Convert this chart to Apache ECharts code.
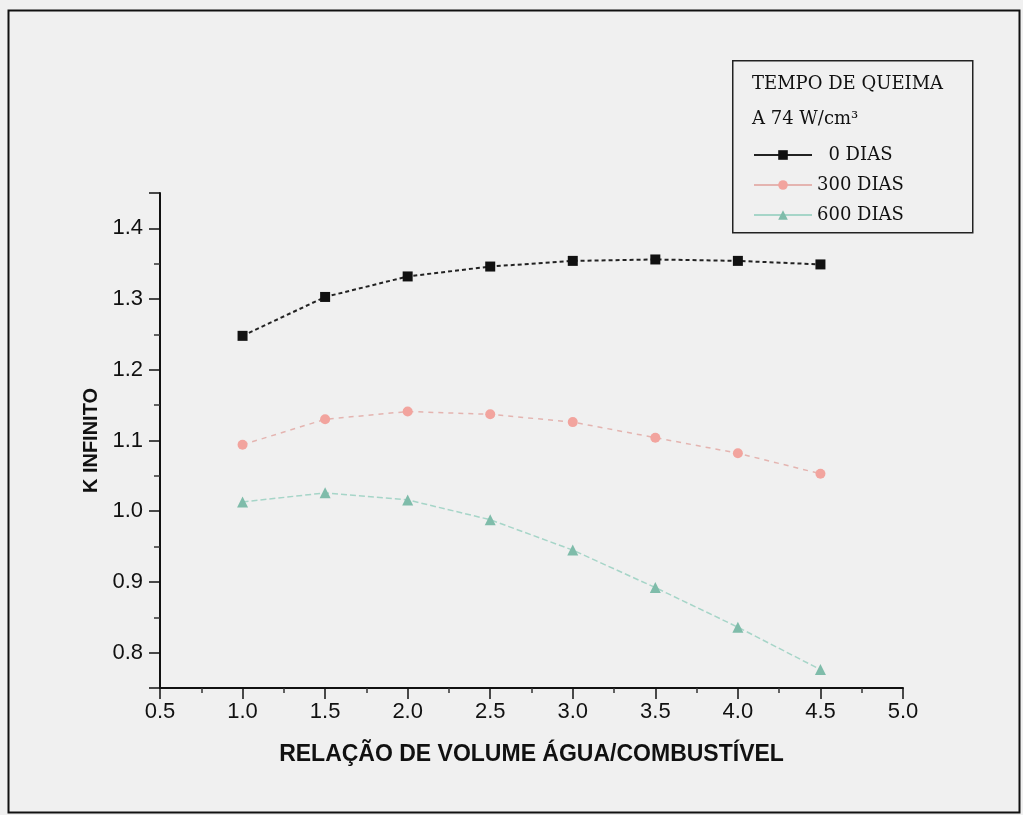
<!DOCTYPE html>
<html>
<head>
<meta charset="utf-8">
<title>K infinito vs relação de volume</title>
<script src="https://cdn.jsdelivr.net/npm/echarts@6/dist/echarts.min.js"></script>
<style>
  html, body { margin: 0; padding: 0; background: #f0f0f0; }
  #chart { width: 1023px; height: 815px; }
</style>
</head>
<body>
<div id="chart"></div>
<script>
// Razão de volume água/combustível (eixo x)
const razaoVolume = [1.0, 1.5, 2.0, 2.5, 3.0, 3.5, 4.0, 4.5];
// K infinito para cada tempo de queima
const kDias0   = [1.248, 1.303, 1.332, 1.346, 1.354, 1.356, 1.354, 1.349];
const kDias300 = [1.094, 1.130, 1.141, 1.137, 1.126, 1.104, 1.082, 1.053];
const kDias600 = [1.013, 1.026, 1.016, 0.988, 0.945, 0.892, 0.836, 0.776];
const nomesSeries = ['0 DIAS', '300 DIAS', '600 DIAS'];
const tituloLegenda = ['TEMPO DE QUEIMA', 'A 74 W/cm³'];

const pares = (ys) => razaoVolume.map((x, i) => [x, ys[i]]);

const chart = echarts.init(document.getElementById('chart'), null, { renderer: 'canvas' });

const serif = 'DejaVu Serif';
const sans = 'Liberation Sans';

chart.setOption({
  backgroundColor: '#f0f0f0',
  animation: false,
  grid: { left: 160, right: 120, top: 193, bottom: 127, containLabel: false },
  xAxis: {
    type: 'value',
    min: 0.5, max: 5.0, interval: 0.5,
    name: 'RELAÇÃO DE VOLUME ÁGUA/COMBUSTÍVEL',
    nameLocation: 'middle', nameGap: 55,
    nameTextStyle: { fontFamily: sans, fontWeight: 'bold', fontSize: 23, color: '#111' },
    axisLine: { lineStyle: { color: '#111', width: 2 } },
    axisTick: { inside: false, length: 11, lineStyle: { color: '#111', width: 1.5 } },
    minorTick: { show: true, splitNumber: 2, length: 5, lineStyle: { color: '#333', width: 1.5 } },
    splitLine: { show: false },
    axisLabel: { margin: 13, fontFamily: sans, fontSize: 22, color: '#111',
      formatter: (v) => v.toFixed(1) }
  },
  yAxis: {
    type: 'value',
    min: 0.75, max: 1.45, splitNumber: 7,
    name: 'K INFINITO',
    nameLocation: 'middle', nameGap: 47, nameRotate: 90,
    nameTextStyle: { fontFamily: sans, fontWeight: 'bold', fontSize: 20, color: '#111' },
    axisLine: { lineStyle: { color: '#111', width: 2 } },
    axisTick: { inside: false, length: 11, lineStyle: { color: '#111', width: 1.5 } },
    minorTick: { show: true, splitNumber: 2, length: 6, lineStyle: { color: '#333', width: 1.5 } },
    splitLine: { show: false },
    axisLabel: { margin: 17, fontFamily: sans, fontSize: 22, color: '#111',
      showMinLabel: false, showMaxLabel: false,
      formatter: (v) => v.toFixed(1) }
  },
  legend: {
    orient: 'vertical',
    left: 748, top: 141, z: 10,
    itemWidth: 58, itemHeight: 12, itemGap: 12,
    textStyle: { fontFamily: serif, fontSize: 18, color: '#111' },
    formatter: (n) => (n === '0 DIAS' ? '  0 DIAS' : n),
    data: [
      { name: nomesSeries[0], lineStyle: { type: 'solid' } },
      { name: nomesSeries[1], lineStyle: { type: 'solid' } },
      { name: nomesSeries[2], lineStyle: { type: 'solid' } }
    ]
  },
  graphic: [
    { type: 'rect', left: 6, top: 8, silent: true, z: 0,
      shape: { width: 1011, height: 802 },
      style: { fill: 'none', stroke: '#111', lineWidth: 2 } },
    { type: 'rect', left: 732, top: 60, silent: true, z: 1,
      shape: { width: 240, height: 172 },
      style: { fill: '#f0f0f0', stroke: '#222', lineWidth: 1.5 } },
    { type: 'text', left: 752, top: 75, z: 2,
      style: { text: tituloLegenda[0], fontFamily: serif, fontSize: 18, fill: '#111' } },
    { type: 'text', left: 752, top: 110, z: 2,
      style: { text: tituloLegenda[1], fontFamily: serif, fontSize: 18, fill: '#111' } }
  ],
  series: [
    {
      name: nomesSeries[0], type: 'line', data: pares(kDias0),
      symbol: 'rect', symbolSize: 10,
      itemStyle: { color: '#111' },
      lineStyle: { color: '#222', width: 2, type: [4, 3] },
      z: 4
    },
    {
      name: nomesSeries[1], type: 'line', data: pares(kDias300),
      symbol: 'circle', symbolSize: 10,
      itemStyle: { color: '#f2a49e' },
      lineStyle: { color: '#e4b4b0', width: 1.5, type: [5, 5] },
      z: 3
    },
    {
      name: nomesSeries[2], type: 'line', data: pares(kDias600),
      symbol: 'triangle', symbolSize: 11,
      itemStyle: { color: '#7fbcaa' },
      lineStyle: { color: '#a6d5c8', width: 1.5, type: [6, 3] },
      z: 3
    }
  ]
});
</script>
</body>
</html>
